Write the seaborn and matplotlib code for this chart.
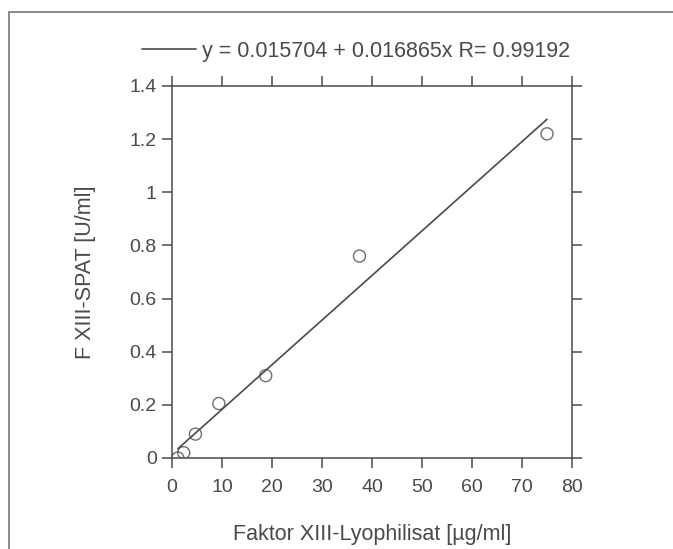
import matplotlib
matplotlib.use("Agg")
import matplotlib.pyplot as plt
import seaborn as sns
import pandas as pd
from matplotlib.patches import Rectangle

# --- data ---
lyophilisat = [1.17, 2.34, 4.69, 9.375, 18.75, 37.5, 75.0]
spat = [0.0, 0.02, 0.09, 0.205, 0.31, 0.76, 1.22]
fit_label = "y = 0.015704 + 0.016865x R= 0.99192"

x_ticks = [0, 10, 20, 30, 40, 50, 60, 70, 80]
y_ticks = [0, 0.2, 0.4, 0.6, 0.8, 1.0, 1.2, 1.4]
y_tick_labels = ["0", "0.2", "0.4", "0.6", "0.8", "1", "1.2", "1.4"]

df = pd.DataFrame({"x": lyophilisat, "y": spat})

sns.set_theme(style="ticks")
plt.rcParams["font.family"] = ["Liberation Sans", "DejaVu Sans"]
ink = "#4a4a4a"

fig = plt.figure(figsize=(6.73, 5.49), dpi=100)
ax = fig.add_axes([172 / 673, 1 - 458 / 549, 400 / 673, 372 / 549])

sns.regplot(data=df, x="x", y="y", ax=ax, ci=None, truncate=True,
            marker="o",
            scatter_kws={"s": 75, "facecolors": "none", "edgecolors": ink, "linewidths": 1.0},
            line_kws={"color": ink, "linewidth": 1.2, "label": fit_label})

ax.set_xlim(0, 80)
ax.set_ylim(0, 1.4)
ax.set_xticks(x_ticks)
ax.set_yticks(y_ticks)
ax.set_yticklabels(y_tick_labels)
ax.tick_params(direction="out", length=7, width=1.1, color=ink,
               top=True, right=True, labeltop=False, labelright=False,
               labelsize=14, labelcolor=ink)
ax.tick_params(axis="x", pad=8)
ax.tick_params(axis="y", pad=4)
for sp in ax.spines.values():
    sp.set_color(ink)
    sp.set_linewidth(1.1)

ax.set_xlabel("Faktor XIII-Lyophilisat [µg/ml]", fontsize=15.5, color=ink, labelpad=20)
ax.set_ylabel("F XIII-SPAT [U/ml]", fontsize=15.5, color=ink, labelpad=24)

ax.legend(handles=[ax.lines[0]], labels=[fit_label], loc="center left",
          bbox_to_anchor=(142 / 673, 1 - 51 / 549), bbox_transform=fig.transFigure,
          frameon=False, fontsize=15.5, handlelength=2.5, handletextpad=0.3,
          labelcolor=ink, borderaxespad=0, borderpad=0)

# scanned page border
fig.patches.append(Rectangle((9 / 673, -0.1), 1.2, 1 - 12 / 549 + 0.1,
                             transform=fig.transFigure, fill=False,
                             edgecolor="#777777", linewidth=1.2))

fig.savefig("out.png", dpi=100, facecolor="white")
